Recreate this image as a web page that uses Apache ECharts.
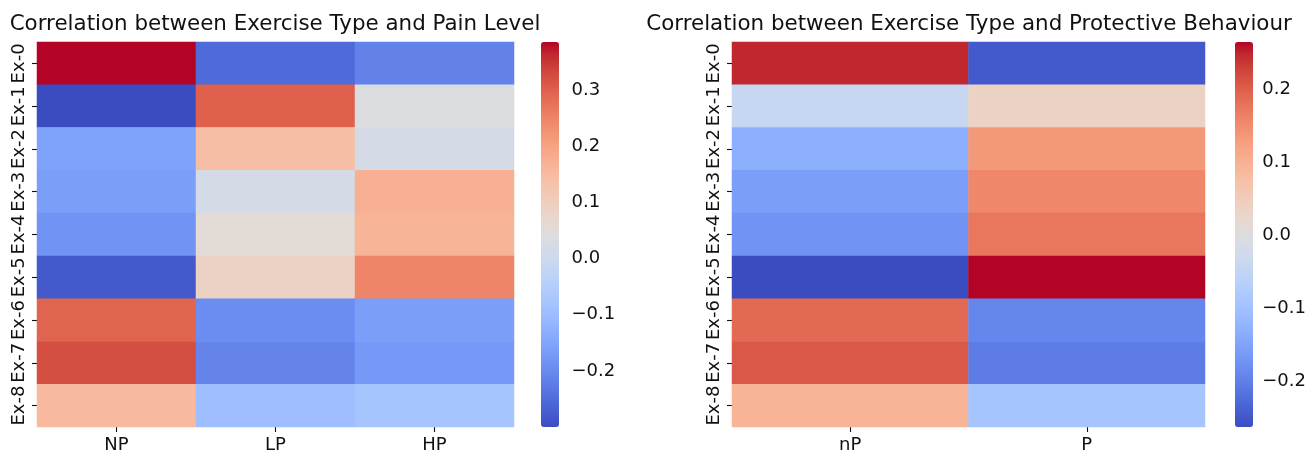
<!DOCTYPE html>
<html>
<head>
<meta charset="utf-8">
<script src="https://cdn.jsdelivr.net/npm/echarts@6/dist/echarts.min.js"></script>
<style>html,body{margin:0;padding:0;background:#fff;}#c{width:1309px;height:456px;}</style>
</head>
<body>
<div id="c"></div>
<script>
// ---- data ----
const exercises = ['Ex-0','Ex-1','Ex-2','Ex-3','Ex-4','Ex-5','Ex-6','Ex-7','Ex-8'];
const painCats = ['NP','LP','HP'];
const painNP = [0.386, -0.300, -0.156, -0.163, -0.183, -0.279, 0.293, 0.324, 0.153];
const painLP = [-0.252, 0.300, 0.142, 0.020, 0.057, 0.088, -0.194, -0.211, -0.094];
const painHP = [-0.214, 0.036, 0.022, 0.173, 0.166, 0.249, -0.163, -0.173, -0.080];
const protCats = ['nP','P'];
const protNP = [0.249, -0.041, -0.130, -0.157, -0.172, -0.262, 0.189, 0.207, 0.096];
const protP  = [-0.246, 0.036, 0.136, 0.157, 0.175, 0.265, -0.191, -0.204, -0.093];
const painTicks = [-0.2, -0.1, 0.0, 0.1, 0.2, 0.3];
const protTicks = [-0.2, -0.1, 0.0, 0.1, 0.2];
const titles = ['Correlation between Exercise Type and Pain Level', 'Correlation between Exercise Type and Protective Behaviour'];

// coolwarm colormap (Moreland)
const coolwarm = ['#3b4cc0','#445acc','#4d68d7','#5775e1','#6282ea','#6c8ef1','#779af7','#82a5fb','#8db0fe','#98b9ff','#a3c2ff','#aec9fd','#b8d0f9','#c2d5f4','#ccd9ee','#d5dbe6','#dddddd','#e5d8d1','#ecd3c5','#f1ccb9','#f5c4ad','#f7bba0','#f7b194','#f7a687','#f49a7b','#f18d6f','#ec7f63','#e57058','#de604d','#d55042','#cb3e38','#c0282f','#b40426'];

function cells(cols) {
  const out = [];
  cols.forEach((arr, xi) => arr.forEach((v, yi) => out.push([xi, yi, v])));
  return out;
}
const painData = cells([painNP, painLP, painHP]);
const protData = cells([protNP, protP]);
const painMin = Math.min(...painNP, ...painLP, ...painHP), painMax = Math.max(...painNP, ...painLP, ...painHP);
const protMin = Math.min(...protNP, ...protP), protMax = Math.max(...protNP, ...protP);

const FONT = 'DejaVu Sans';
const TXT = '#111';
const FS = 18;
const TFS = 21.4;
const fmt = v => { const s = Math.abs(v).toFixed(1); return v < -1e-9 ? '\u2212' + s : s; };

const G = [
  {left: 37, top: 42, width: 477, height: 385},
  {left: 732, top: 42, width: 473, height: 385},
  {left: 541, top: 42, width: 18, height: 385},
  {left: 1235, top: 42, width: 18, height: 385}
];

function catX(i, cats) {
  return {type: 'category', gridIndex: i, data: cats,
    axisLine: {show: false},
    axisTick: {show: true, alignWithLabel: true, length: 5, lineStyle: {color: TXT, width: 1.1}},
    axisLabel: {fontFamily: FONT, fontSize: FS, color: TXT, margin: 9, interval: 0},
    splitLine: {show: false}};
}
function catY(i) {
  return {type: 'category', gridIndex: i, data: exercises, inverse: true,
    axisLine: {show: false},
    axisTick: {show: true, alignWithLabel: true, interval: 0, length: 5, lineStyle: {color: TXT, width: 1.1}},
    axisLabel: {fontFamily: FONT, fontSize: FS, color: TXT, margin: 9, rotate: 90, interval: 0, hideOverlap: false},
    splitLine: {show: false}};
}
function cbY(i, mn, mx, ticks) {
  return {type: 'value', gridIndex: i, min: mn, max: mx, position: 'right',
    axisLine: {show: false},
    axisTick: {show: true, inside: false, length: 5, customValues: ticks, lineStyle: {color: TXT, width: 1.1}},
    axisLabel: {fontFamily: FONT, fontSize: FS, color: TXT, margin: 12.5, customValues: ticks, formatter: fmt},
    splitLine: {show: false}};
}

const option = {
  animation: false,
  backgroundColor: '#fff',
  grid: G,
  xAxis: [catX(0, painCats), catX(1, protCats),
    {type: 'value', gridIndex: 2, show: false, min: 0, max: 1},
    {type: 'value', gridIndex: 3, show: false, min: 0, max: 1}],
  yAxis: [catY(0), catY(1), cbY(2, painMin, painMax, painTicks), cbY(3, protMin, protMax, protTicks)],
  visualMap: [
    {type: 'continuous', seriesIndex: 0, min: painMin, max: painMax, inRange: {color: coolwarm},
     orient: 'vertical', left: 541, top: 42, itemWidth: 18, itemHeight: 385, padding: 0,
     calculable: false, showLabel: false, realtime: false, hoverLink: false},
    {type: 'continuous', seriesIndex: 1, min: protMin, max: protMax, inRange: {color: coolwarm},
     orient: 'vertical', left: 1235, top: 42, itemWidth: 18, itemHeight: 385, padding: 0,
     calculable: false, showLabel: false, realtime: false, hoverLink: false}
  ],
  graphic: [
    {type: 'text', x: 275, y: 24.3, style: {text: titles[0], fontFamily: FONT, fontSize: TFS, fill: TXT, textAlign: 'center', textVerticalAlign: 'middle'}},
    {type: 'text', x: 969, y: 24.3, style: {text: titles[1], fontFamily: FONT, fontSize: TFS, fill: TXT, textAlign: 'center', textVerticalAlign: 'middle'}}
  ],
  series: [
    {type: 'heatmap', xAxisIndex: 0, yAxisIndex: 0, data: painData, itemStyle: {borderWidth: 0}, emphasis: {disabled: true}},
    {type: 'heatmap', xAxisIndex: 1, yAxisIndex: 1, data: protData, itemStyle: {borderWidth: 0}, emphasis: {disabled: true}}
  ]
};
const chart = echarts.init(document.getElementById('c'), null, {renderer: 'canvas'});
chart.setOption(option);
</script>
</body>
</html>
